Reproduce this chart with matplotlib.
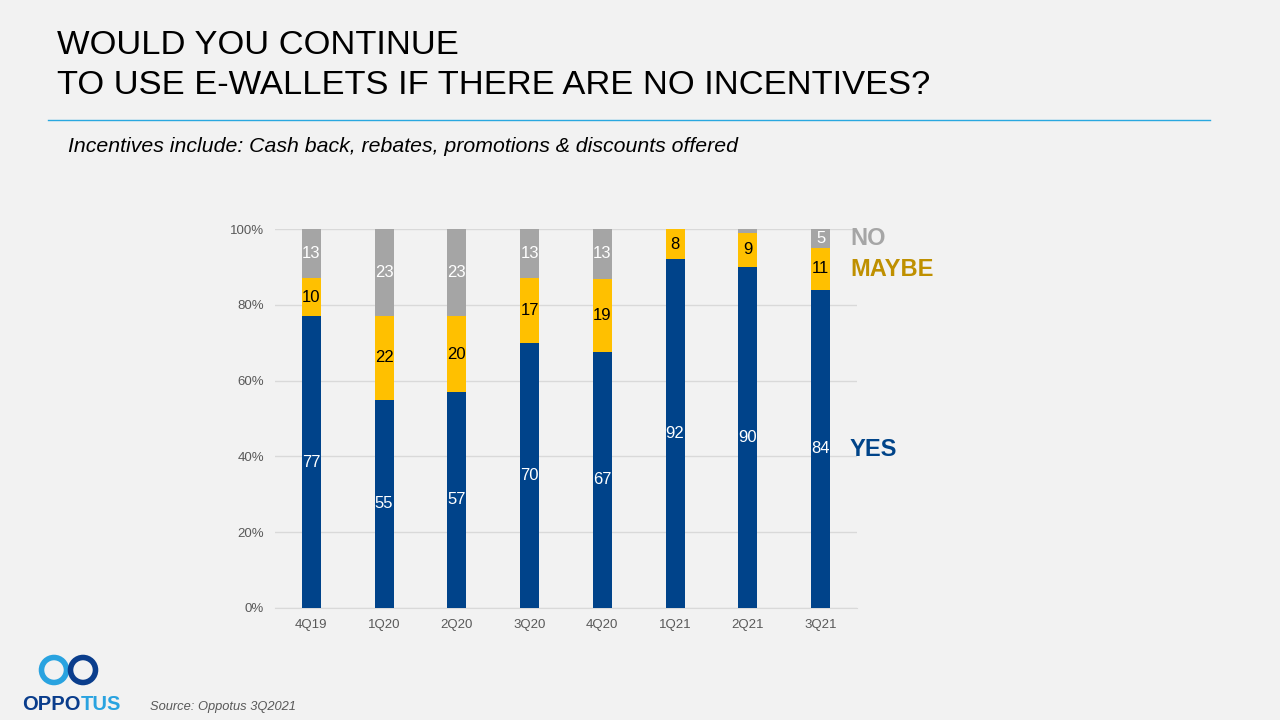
import matplotlib
matplotlib.use("Agg")
import matplotlib.pyplot as plt
from matplotlib.patches import Ellipse
from matplotlib.lines import Line2D

plt.rcParams['font.family'] = ['Liberation Sans', 'DejaVu Sans']

quarters = ["4Q19", "1Q20", "2Q20", "3Q20", "4Q20", "1Q21", "2Q21", "3Q21"]
yes = [77, 55, 57, 70, 67, 92, 90, 84]
maybe = [10, 22, 20, 17, 19, 8, 9, 11]
no = [13, 23, 23, 13, 13, 0, 1, 5]

BLUE = "#00438A"
YELLOW = "#FFC000"
GRAY = "#A5A5A5"
BG = "#F2F2F2"

fig = plt.figure(figsize=(12.8, 7.2), dpi=100, facecolor=BG)
ax = fig.add_axes([275/1280, 1-608/720, (857-275)/1280, (608-229)/720])
ax.set_facecolor(BG)

totals = [a + b + c for a, b, c in zip(yes, maybe, no)]
py = [100*a/t for a, t in zip(yes, totals)]
pm = [100*b/t for b, t in zip(maybe, totals)]
pn = [100*c/t for c, t in zip(no, totals)]
x = list(range(len(quarters)))
w = 0.26
ax.bar(x, py, w, color=BLUE, zorder=3)
ax.bar(x, pm, w, bottom=py, color=YELLOW, zorder=3)
ax.bar(x, pn, w, bottom=[a+b for a, b in zip(py, pm)], color=GRAY, zorder=3)

for i in x:
    ax.text(i, py[i]/2, str(yes[i]), ha='center', va='center', color='white', fontsize=12, zorder=4)
    if maybe[i] >= 3:
        ax.text(i, py[i] + pm[i]/2, str(maybe[i]), ha='center', va='center', color='black', fontsize=12, zorder=4)
    if no[i] >= 3:
        ax.text(i, py[i] + pm[i] + pn[i]/2, str(no[i]), ha='center', va='center', color='white', fontsize=12, zorder=4)

ax.set_xlim(-0.5, 7.5)
ax.set_ylim(0, 100)
ax.set_yticks([0, 20, 40, 60, 80, 100])
ax.set_yticklabels([f"{v}%" for v in [0, 20, 40, 60, 80, 100]])
ax.set_xticks(x)
ax.set_xticklabels(quarters)
ax.tick_params(axis='both', length=0, labelsize=9.5, colors='#595959', pad=8)
ax.grid(axis='y', color='#D9D9D9', linewidth=1, zorder=0)
for s in ['top', 'right', 'left']:
    ax.spines[s].set_visible(False)
ax.spines['bottom'].set_color('#D9D9D9')

# series labels
fig.text(850/1280, 1-239/720, "NO", color="#A6A6A6", fontsize=17, fontweight='bold', va='center')
fig.text(850/1280, 1-269/720, "MAYBE", color="#BF9000", fontsize=17, fontweight='bold', va='center')
fig.text(850/1280, 1-449/720, "YES", color="#004489", fontsize=17, fontweight='bold', va='center')

# title
fig.text(57/1280, 1-45/720, "WOULD YOU CONTINUE", fontsize=24.8, va='center', color='black')
fig.text(57/1280, 1-85/720, "TO USE E-WALLETS IF THERE ARE NO INCENTIVES?", fontsize=24.8, va='center', color='black')
fig.add_artist(Line2D([48/1280, 1210/1280], [1-120/720, 1-120/720], color='#29A8E0', linewidth=1))
fig.text(68/1280, 1-146/720, "Incentives include: Cash back, rebates, promotions & discounts offered",
         fontsize=15.3, style='italic', va='center', color='black')

# source
fig.text(150/1280, 1-707/720, "Source: Oppotus 3Q2021", fontsize=9.3, style='italic', va='center', color='#595959')

# logo
r = 12.5
fig.add_artist(Ellipse((54/1280, 1-670/720), 2*r/1280, 2*r/720, transform=fig.transFigure, fill=False,
                       edgecolor='#29A3E0', linewidth=4))
fig.add_artist(Ellipse((83/1280, 1-670/720), 2*r/1280, 2*r/720, transform=fig.transFigure, fill=False,
                       edgecolor='#0A3D8C', linewidth=4))
t1 = fig.text(22/1280, 1-704/720, "OPPO", fontsize=14.5, fontweight='bold', color='#0A3D8C', va='center')
fig.canvas.draw()
bb = t1.get_window_extent()
fig.text(bb.x1/1280, 1-704/720, "TUS", fontsize=14.5, fontweight='bold', color='#29A3E0', va='center')

fig.savefig("out.png", dpi=100, facecolor=BG)
